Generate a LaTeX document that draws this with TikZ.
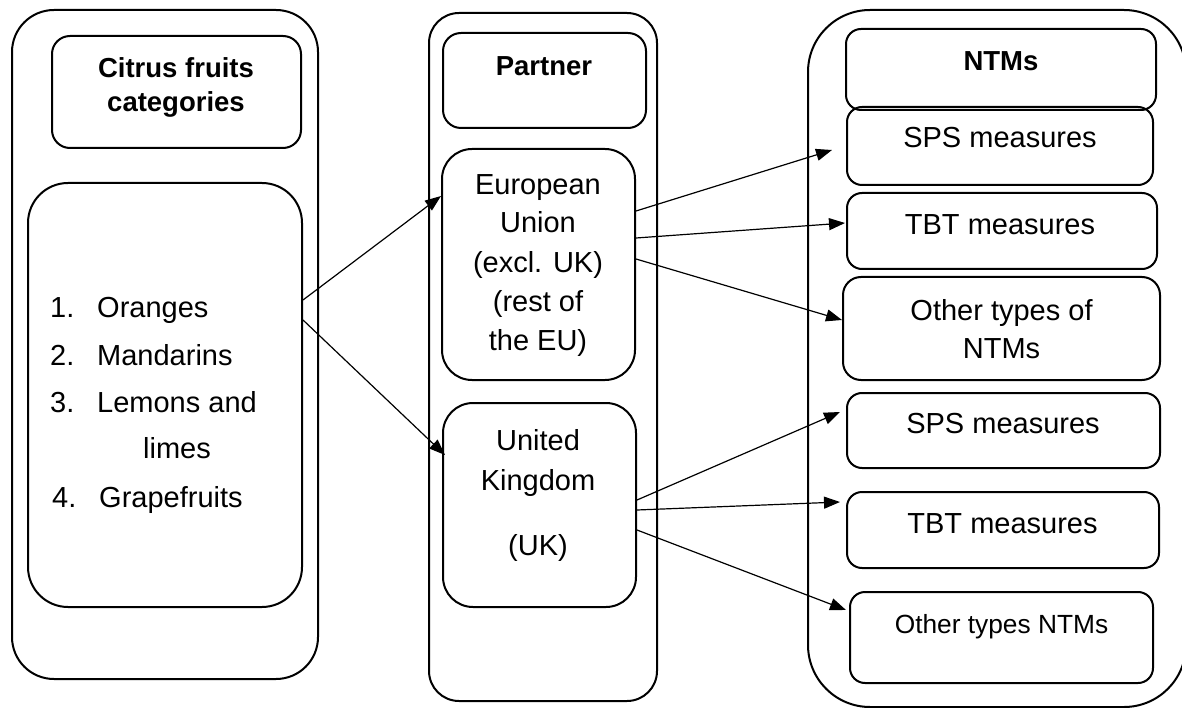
\documentclass[tikz,border=0pt]{standalone}
\usepackage{fontspec}
\setmainfont{Liberation Sans}
\usetikzlibrary{arrows.meta}
\begin{document}
\begin{tikzpicture}[x=1pt,y=-1pt,
  box/.style={draw, line width=2pt, rounded corners=#1, inner sep=0pt},
  box/.default=16pt,
  txt/.style={anchor=base, inner sep=0pt, font=\fontsize{29}{35}\selectfont},
  txtl/.style={anchor=base west, inner sep=0pt, font=\fontsize{29}{35}\selectfont},
  hdr/.style={anchor=base, inner sep=0pt, font=\fontsize{27.5}{33}\selectfont\bfseries},
  arr/.style={line width=1.2pt, -{Triangle[length=16pt,width=12pt]}}]
\useasboundingbox (0,0) rectangle (1182,708);
% outer columns
\node[box=42pt, minimum width=306pt, minimum height=669pt] (colA) at (165,344.5) {};
\node[box=30pt, minimum width=228pt, minimum height=688pt] (colB) at (543,357) {};
\node[box=62pt, minimum width=378pt, minimum height=697pt] (colC) at (997,358.5) {};
% left column
\node[box=18pt, minimum width=249pt, minimum height=112pt] (hA) at (176.5,92) {};
\node[hdr] (hAt1) at (176,78) {Citrus fruits};
\node[hdr] (hAt2) at (176,112) {categories};
\node[box=40pt, minimum width=274pt, minimum height=424pt] (list) at (165,395) {};
\node[txtl] (n1) at (50,317) {1.};
\node[txtl] (i1) at (97,317) {Oranges};
\node[txtl] (n2) at (50,365) {2.};
\node[txtl] (i2) at (97,365) {Mandarins};
\node[txtl] (n3) at (50,412) {3.};
\node[txtl] (i3) at (97,412) {Lemons and};
\node[txtl] (i3b) at (143,458) {limes};
\node[txtl] (n4) at (52,507) {4.};
\node[txtl] (i4) at (99,507) {Grapefruits};
% middle column
\node[box=18pt, minimum width=203pt, minimum height=95pt] (hB) at (544.5,80.5) {};
\node[hdr] (hBt) at (544,76) {Partner};
\node[box=30pt, minimum width=193pt, minimum height=231pt] (eu) at (538.5,264.5) {};
\node[txt] (eu1) at (538,195) {European};
\node[txt] (eu2) at (538,233) {Union};
\node[txt] (eu3) at (538,273) {(excl. UK)};
\node[txt] (eu4) at (538,312) {(rest of};
\node[txt] (eu5) at (538,350) {the EU)};
\node[box=30pt, minimum width=193pt, minimum height=204pt] (uk) at (539.5,505) {};
\node[txt] (uk1) at (538,450) {United};
\node[txt] (uk2) at (538,490) {Kingdom};
\node[txt] (uk3) at (538,555) {(UK)};
% right column
\node[box=15pt, minimum width=310pt, minimum height=81pt] (hC) at (1001,69.5) {};
\node[hdr] (hCt) at (1001,71) {NTMs};
\node[box=15pt, minimum width=306pt, minimum height=78pt] (sps1) at (1000,146) {};
\node[txt] (sps1t) at (1000,148) {SPS measures};
\node[box=15pt, minimum width=310pt, minimum height=76pt] (tbt1) at (1002,231) {};
\node[txt] (tbt1t) at (1000,235) {TBT measures};
\node[box=18pt, minimum width=317pt, minimum height=103pt] (oth1) at (1001.5,328.5) {};
\node[txt] (oth1a) at (1001.5,320) {Other types of};
\node[txt] (oth1b) at (1001.5,358) {NTMs};
\node[box=15pt, minimum width=313pt, minimum height=75pt] (sps2) at (1003.5,430.5) {};
\node[txt] (sps2t) at (1003,433) {SPS measures};
\node[box=15pt, minimum width=312pt, minimum height=76pt] (tbt2) at (1003,530) {};
\node[txt] (tbt2t) at (1002.5,533) {TBT measures};
\node[box=15pt, minimum width=303pt, minimum height=91pt] (oth2) at (1001.5,637.5) {};
\node[anchor=base, inner sep=0pt, font=\fontsize{26.3}{32}\selectfont] (oth2t) at (1001.5,633) {Other types NTMs};
% connectors
\draw[arr] ([yshift=95pt]list.east) -- ([yshift=68.5pt]eu.west);
\draw[arr] ([yshift=75pt]list.east) -- ([xshift=3pt,yshift=50pt]uk.west);
\draw[arr] ([yshift=53.5pt]eu.east) -- ([xshift=-14pt,yshift=-4pt]sps1.west);
\draw[arr] ([yshift=26.5pt]eu.east) -- ([xshift=-1pt,yshift=8pt]tbt1.west);
\draw[arr] ([yshift=5.5pt]eu.east) -- ([yshift=8.5pt]oth1.west);
\draw[arr] ([yshift=5pt]uk.east) -- ([xshift=-6pt,yshift=18.5pt]sps2.west);
\draw[arr] ([yshift=-5pt]uk.east) -- ([xshift=-6pt,yshift=28pt]tbt2.west);
\draw[arr] ([yshift=-25pt]uk.east) -- ([xshift=-3pt,yshift=27.5pt]oth2.west);
\end{tikzpicture}
\end{document}
